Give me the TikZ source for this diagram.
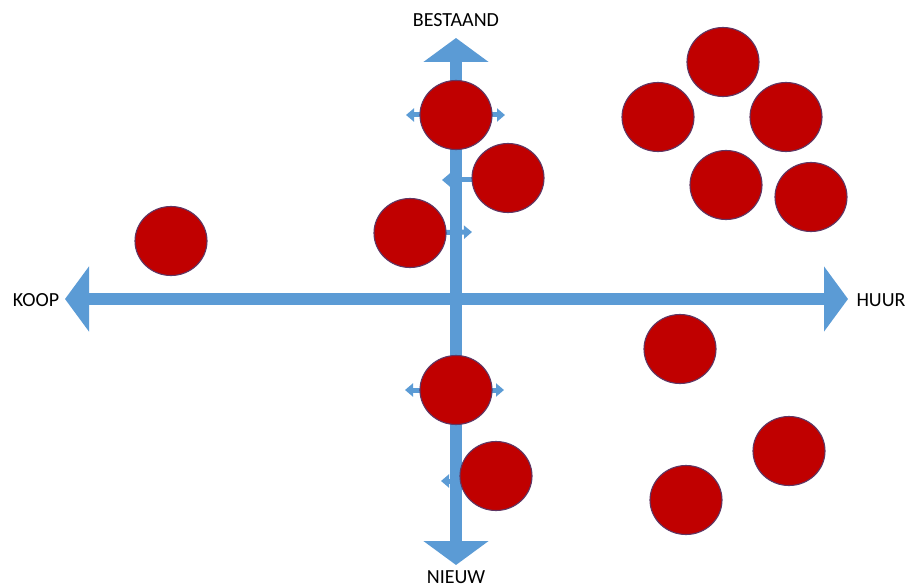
\documentclass[tikz,border=0pt]{standalone}
\usepackage{fontspec}
\setmainfont{Carlito}
\usetikzlibrary{arrows.meta,shapes.geometric}
\definecolor{axisblue}{RGB}{91,155,213}
\definecolor{dotred}{RGB}{192,0,0}
\definecolor{dotline}{RGB}{95,55,100}
\tikzset{
  bigaxis/.style={axisblue, line width=12pt, -{Triangle[length=24pt,width=64pt]}},
  smallarr/.style={axisblue, line width=5pt, -{Triangle[length=8pt,width=13pt]}},
  dot/.style={ellipse, fill=dotred, draw=dotline, line width=1.1pt, minimum width=72pt, minimum height=69pt, inner sep=0pt},
  lbl/.style={font=\fontsize{20}{23}\selectfont, inner sep=0pt}
}
\begin{document}
\begin{tikzpicture}[x=1pt,y=-1pt]
\useasboundingbox (0,0) rectangle (907,588);
% axis end points
\coordinate (ctr) at (456,299);
\coordinate (top) at (456,38);
\coordinate (bot) at (456,565);
\coordinate (lft) at (65,299);
\coordinate (rgt) at (848,299);
% circle centres
\coordinate (p1) at (456,115);
\coordinate (p2) at (508,178);
\coordinate (p3) at (410,233);
\coordinate (p4) at (171,241);
\coordinate (p5) at (456,390);
\coordinate (p6) at (496,476);
\coordinate (p7) at (680,349);
\coordinate (p8) at (789,451);
\coordinate (p9) at (686,500);
\coordinate (pa) at (723,62);
\coordinate (pb) at (658,117);
\coordinate (pc) at (786,117);
\coordinate (pd) at (726,185);
\coordinate (pe) at (811,197);
% small arrow end points
\coordinate (e1l) at (406,115);
\coordinate (e1r) at (505,115);
\coordinate (e2l) at (442,180);
\coordinate (e3r) at (472,232);
\coordinate (e5l) at (405,390);
\coordinate (e5r) at (504,390);
\coordinate (e6l) at (441,481);
% axes
\draw[bigaxis] (ctr) -- (top);
\draw[bigaxis] (ctr) -- (bot);
\draw[bigaxis] (ctr) -- (lft);
\draw[bigaxis] (ctr) -- (rgt);
% small arrows
\draw[smallarr] (p1) -- (e1l);
\draw[smallarr] (p1) -- (e1r);
\draw[smallarr] (p2) ++(0,2) coordinate (s2) -- (e2l);
\draw[smallarr] (p3) -- (e3r);
\draw[smallarr] (p5) -- (e5l);
\draw[smallarr] (p5) -- (e5r);
\draw[smallarr] (p6) ++(0,5) coordinate (s6) -- (e6l);
% circles
\foreach \p/\n in {p1/c1,p2/c2,p3/c3,p4/c4,p5/c5,p6/c6,p7/c7,p8/c8,p9/c9,pa/ca,pb/cb,pc/cc,pd/cd,pe/ce}
  \node[dot] (\n) at (\p) {};
% labels
\node[lbl] (lb) at (456,20) {BESTAAND};
\node[lbl] (ln) at (456,577) {NIEUW};
\node[lbl] (lk) at (36,300) {KOOP};
\node[lbl] (lh) at (881,300) {HUUR};
\end{tikzpicture}
\end{document}
